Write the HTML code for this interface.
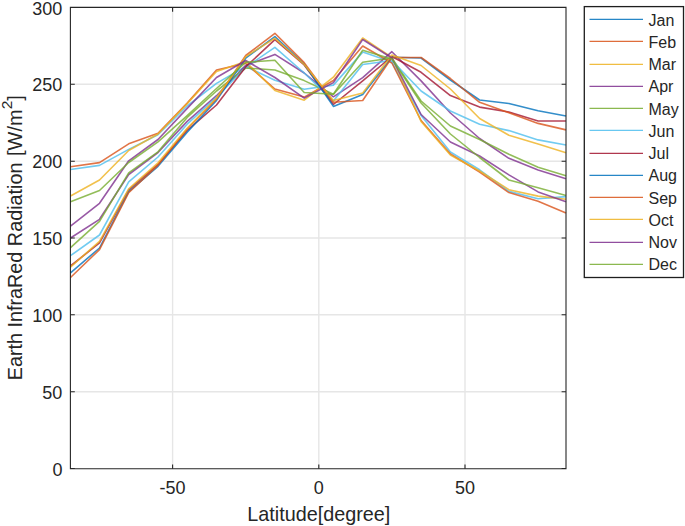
<!DOCTYPE html>
<html><head><meta charset="utf-8"><style>
html,body{margin:0;padding:0;background:#fff;}
svg{display:block;}
text{font-family:"Liberation Sans",sans-serif;fill:#262626;}
</style></head><body>
<svg width="685" height="526" viewBox="0 0 685 526">
<rect x="0" y="0" width="685" height="526" fill="#fff"/>
<path d="M172.6 7.4V468.8M318.8 7.4V468.8M465.0 7.4V468.8M70.4 391.7H566.0M70.4 314.8H566.0M70.4 238.0H566.0M70.4 161.2H566.0M70.4 84.3H566.0" stroke="#e6e6e6" stroke-width="1.4" fill="none"/>
<polyline points="70.5,169.5 99.5,165.4 128.7,149.4 158.0,134.7 187.2,106.0 216.5,83.4 245.7,66.5 274.9,80.3 304.2,89.2 333.4,85.1 362.7,52.1 391.9,62.0 421.1,115.5 450.4,152.0 479.6,169.8 508.9,191.4 538.1,198.7 566.0,196.6" fill="none" stroke="#4DBEEE" stroke-width="1.6" stroke-opacity="0.8" stroke-linejoin="round"/>
<polyline points="70.5,166.7 99.5,162.6 128.7,143.8 158.0,133.2 187.2,103.1 216.5,70.0 245.7,63.3 274.9,89.0 304.2,97.1 333.4,80.5 362.7,46.0 391.9,63.0 421.1,120.5 450.4,154.0 479.6,172.0 508.9,192.6 538.1,201.3 566.0,213.0" fill="none" stroke="#D95319" stroke-width="1.6" stroke-opacity="0.8" stroke-linejoin="round"/>
<polyline points="70.5,196.0 99.5,180.0 128.7,150.5 158.0,134.0 187.2,103.6 216.5,71.5 245.7,61.6 274.9,90.5 304.2,100.2 333.4,77.2 362.7,38.0 391.9,57.5 421.1,121.5 450.4,155.0 479.6,171.0 508.9,189.7 538.1,196.1 566.0,199.2" fill="none" stroke="#EDB120" stroke-width="1.6" stroke-opacity="0.8" stroke-linejoin="round"/>
<polyline points="70.5,238.0 99.5,219.3 128.7,174.5 158.0,152.5 187.2,121.4 216.5,95.7 245.7,65.4 274.9,54.4 304.2,73.0 333.4,96.8 362.7,77.7 391.9,51.7 421.1,80.9 450.4,113.0 479.6,138.5 508.9,158.3 538.1,170.0 566.0,178.8" fill="none" stroke="#7E2F8E" stroke-width="1.6" stroke-opacity="0.8" stroke-linejoin="round"/>
<polyline points="70.5,247.7 99.5,221.4 128.7,172.8 158.0,151.8 187.2,117.4 216.5,91.0 245.7,68.0 274.9,70.0 304.2,80.6 333.4,94.3 362.7,62.2 391.9,58.0 421.1,101.0 450.4,126.0 479.6,139.5 508.9,154.3 538.1,167.3 566.0,175.7" fill="none" stroke="#77AC30" stroke-width="1.6" stroke-opacity="0.8" stroke-linejoin="round"/>
<polyline points="70.5,255.7 99.5,235.0 128.7,181.9 158.0,157.0 187.2,124.2 216.5,97.2 245.7,67.3 274.9,47.3 304.2,73.0 333.4,101.0 362.7,64.5 391.9,60.5 421.1,91.0 450.4,111.0 479.6,124.2 508.9,130.6 538.1,139.9 566.0,145.0" fill="none" stroke="#4DBEEE" stroke-width="1.6" stroke-opacity="0.8" stroke-linejoin="round"/>
<polyline points="70.5,266.0 99.5,242.9 128.7,189.9 158.0,164.4 187.2,130.5 216.5,105.0 245.7,66.9 274.9,39.6 304.2,65.0 333.4,104.5 362.7,80.8 391.9,56.5 421.1,72.3 450.4,95.6 479.6,107.1 508.9,112.0 538.1,121.0 566.0,121.0" fill="none" stroke="#A2142F" stroke-width="1.6" stroke-opacity="0.8" stroke-linejoin="round"/>
<polyline points="70.5,272.8 99.5,248.0 128.7,191.6 158.0,166.3 187.2,132.2 216.5,100.4 245.7,58.2 274.9,36.6 304.2,64.0 333.4,106.4 362.7,94.4 391.9,57.2 421.1,58.0 450.4,80.0 479.6,100.0 508.9,103.5 538.1,110.8 566.0,116.0" fill="none" stroke="#0072BD" stroke-width="1.6" stroke-opacity="0.8" stroke-linejoin="round"/>
<polyline points="70.5,277.5 99.5,249.6 128.7,192.7 158.0,165.1 187.2,129.0 216.5,99.0 245.7,55.5 274.9,33.3 304.2,62.6 333.4,102.3 362.7,100.5 391.9,57.5 421.1,57.5 450.4,78.5 479.6,102.3 508.9,112.8 538.1,123.4 566.0,129.9" fill="none" stroke="#D95319" stroke-width="1.6" stroke-opacity="0.8" stroke-linejoin="round"/>
<polyline points="70.5,267.1 99.5,241.3 128.7,188.8 158.0,162.8 187.2,128.2 216.5,98.0 245.7,56.6 274.9,38.3 304.2,64.5 333.4,100.5 362.7,93.0 391.9,55.0 421.1,65.5 450.4,89.0 479.6,118.5 508.9,135.3 538.1,143.9 566.0,152.7" fill="none" stroke="#EDB120" stroke-width="1.6" stroke-opacity="0.8" stroke-linejoin="round"/>
<polyline points="70.5,226.1 99.5,203.3 128.7,160.8 158.0,139.5 187.2,108.4 216.5,77.5 245.7,60.5 274.9,77.5 304.2,98.1 333.4,82.6 362.7,39.5 391.9,58.0 421.1,114.5 450.4,142.0 479.6,156.0 508.9,174.9 538.1,191.9 566.0,201.8" fill="none" stroke="#7E2F8E" stroke-width="1.6" stroke-opacity="0.8" stroke-linejoin="round"/>
<polyline points="70.5,201.7 99.5,190.5 128.7,162.5 158.0,141.8 187.2,115.7 216.5,88.5 245.7,62.3 274.9,60.3 304.2,92.5 333.4,94.3 362.7,50.2 391.9,59.0 421.1,103.0 450.4,134.0 479.6,157.5 508.9,180.0 538.1,187.7 566.0,195.6" fill="none" stroke="#77AC30" stroke-width="1.6" stroke-opacity="0.8" stroke-linejoin="round"/>
<path d="M70.4 468.8V7.4H566.0V468.8Z" fill="none" stroke="#262626" stroke-width="1.1"/>
<path d="M172.6 468.8v-4.4M172.6 7.4v4.4M318.8 468.8v-4.4M318.8 7.4v4.4M465.0 468.8v-4.4M465.0 7.4v4.4M70.4 468.5h4.4M566.0 468.5h-4.4M70.4 391.7h4.4M566.0 391.7h-4.4M70.4 314.8h4.4M566.0 314.8h-4.4M70.4 238.0h4.4M566.0 238.0h-4.4M70.4 161.2h4.4M566.0 161.2h-4.4M70.4 84.3h4.4M566.0 84.3h-4.4M70.4 7.5h4.4M566.0 7.5h-4.4" stroke="#262626" stroke-width="1.1" fill="none"/>
<text x="62.400000000000006" y="475.6" text-anchor="end" font-size="18">0</text>
<text x="62.400000000000006" y="398.8" text-anchor="end" font-size="18">50</text>
<text x="62.400000000000006" y="321.9" text-anchor="end" font-size="18">100</text>
<text x="62.400000000000006" y="245.1" text-anchor="end" font-size="18">150</text>
<text x="62.400000000000006" y="168.3" text-anchor="end" font-size="18">200</text>
<text x="62.400000000000006" y="91.4" text-anchor="end" font-size="18">250</text>
<text x="62.400000000000006" y="14.6" text-anchor="end" font-size="18">300</text>
<text x="172.6" y="494.2" text-anchor="middle" font-size="18">-50</text>
<text x="318.8" y="494.2" text-anchor="middle" font-size="18">0</text>
<text x="465.0" y="494.2" text-anchor="middle" font-size="18">50</text>
<text x="318.8" y="521" text-anchor="middle" font-size="19.8">Latitude[degree]</text>
<text transform="translate(21.8,380.3) rotate(-90)" font-size="19.8">Earth InfraRed Radiation</text>
<text transform="translate(21.8,156.0) rotate(-90)" font-size="20">[W/m<tspan dy="-9.5" font-size="15.5">2</tspan><tspan dy="9.5">]</tspan></text>
<rect x="584.3" y="6.6" width="99.2" height="270.9" fill="#fff" stroke="#1e1e1e" stroke-width="1.3"/>
<path d="M589.5 19.45H643" stroke="#0072BD" stroke-width="1.2" stroke-opacity="0.85"/>
<text x="648.5" y="25.50" font-size="16">Jan</text>
<path d="M589.5 41.45H643" stroke="#D95319" stroke-width="1.2" stroke-opacity="0.85"/>
<text x="648.5" y="47.75" font-size="16">Feb</text>
<path d="M589.5 64.45H643" stroke="#EDB120" stroke-width="1.2" stroke-opacity="0.85"/>
<text x="648.5" y="70.00" font-size="16">Mar</text>
<path d="M589.5 86.45H643" stroke="#7E2F8E" stroke-width="1.2" stroke-opacity="0.85"/>
<text x="648.5" y="92.25" font-size="16">Apr</text>
<path d="M589.5 108.45H643" stroke="#77AC30" stroke-width="1.2" stroke-opacity="0.85"/>
<text x="648.5" y="114.50" font-size="16">May</text>
<path d="M589.5 130.45H643" stroke="#4DBEEE" stroke-width="1.2" stroke-opacity="0.85"/>
<text x="648.5" y="136.75" font-size="16">Jun</text>
<path d="M589.5 153.45H643" stroke="#A2142F" stroke-width="1.2" stroke-opacity="0.85"/>
<text x="648.5" y="159.00" font-size="16">Jul</text>
<path d="M589.5 175.45H643" stroke="#0072BD" stroke-width="1.2" stroke-opacity="0.85"/>
<text x="648.5" y="181.25" font-size="16">Aug</text>
<path d="M589.5 197.45H643" stroke="#D95319" stroke-width="1.2" stroke-opacity="0.85"/>
<text x="648.5" y="203.50" font-size="16">Sep</text>
<path d="M589.5 219.45H643" stroke="#EDB120" stroke-width="1.2" stroke-opacity="0.85"/>
<text x="648.5" y="225.75" font-size="16">Oct</text>
<path d="M589.5 242.45H643" stroke="#7E2F8E" stroke-width="1.2" stroke-opacity="0.85"/>
<text x="648.5" y="248.00" font-size="16">Nov</text>
<path d="M589.5 264.45H643" stroke="#77AC30" stroke-width="1.2" stroke-opacity="0.85"/>
<text x="648.5" y="270.25" font-size="16">Dec</text>
</svg>
</body></html>
